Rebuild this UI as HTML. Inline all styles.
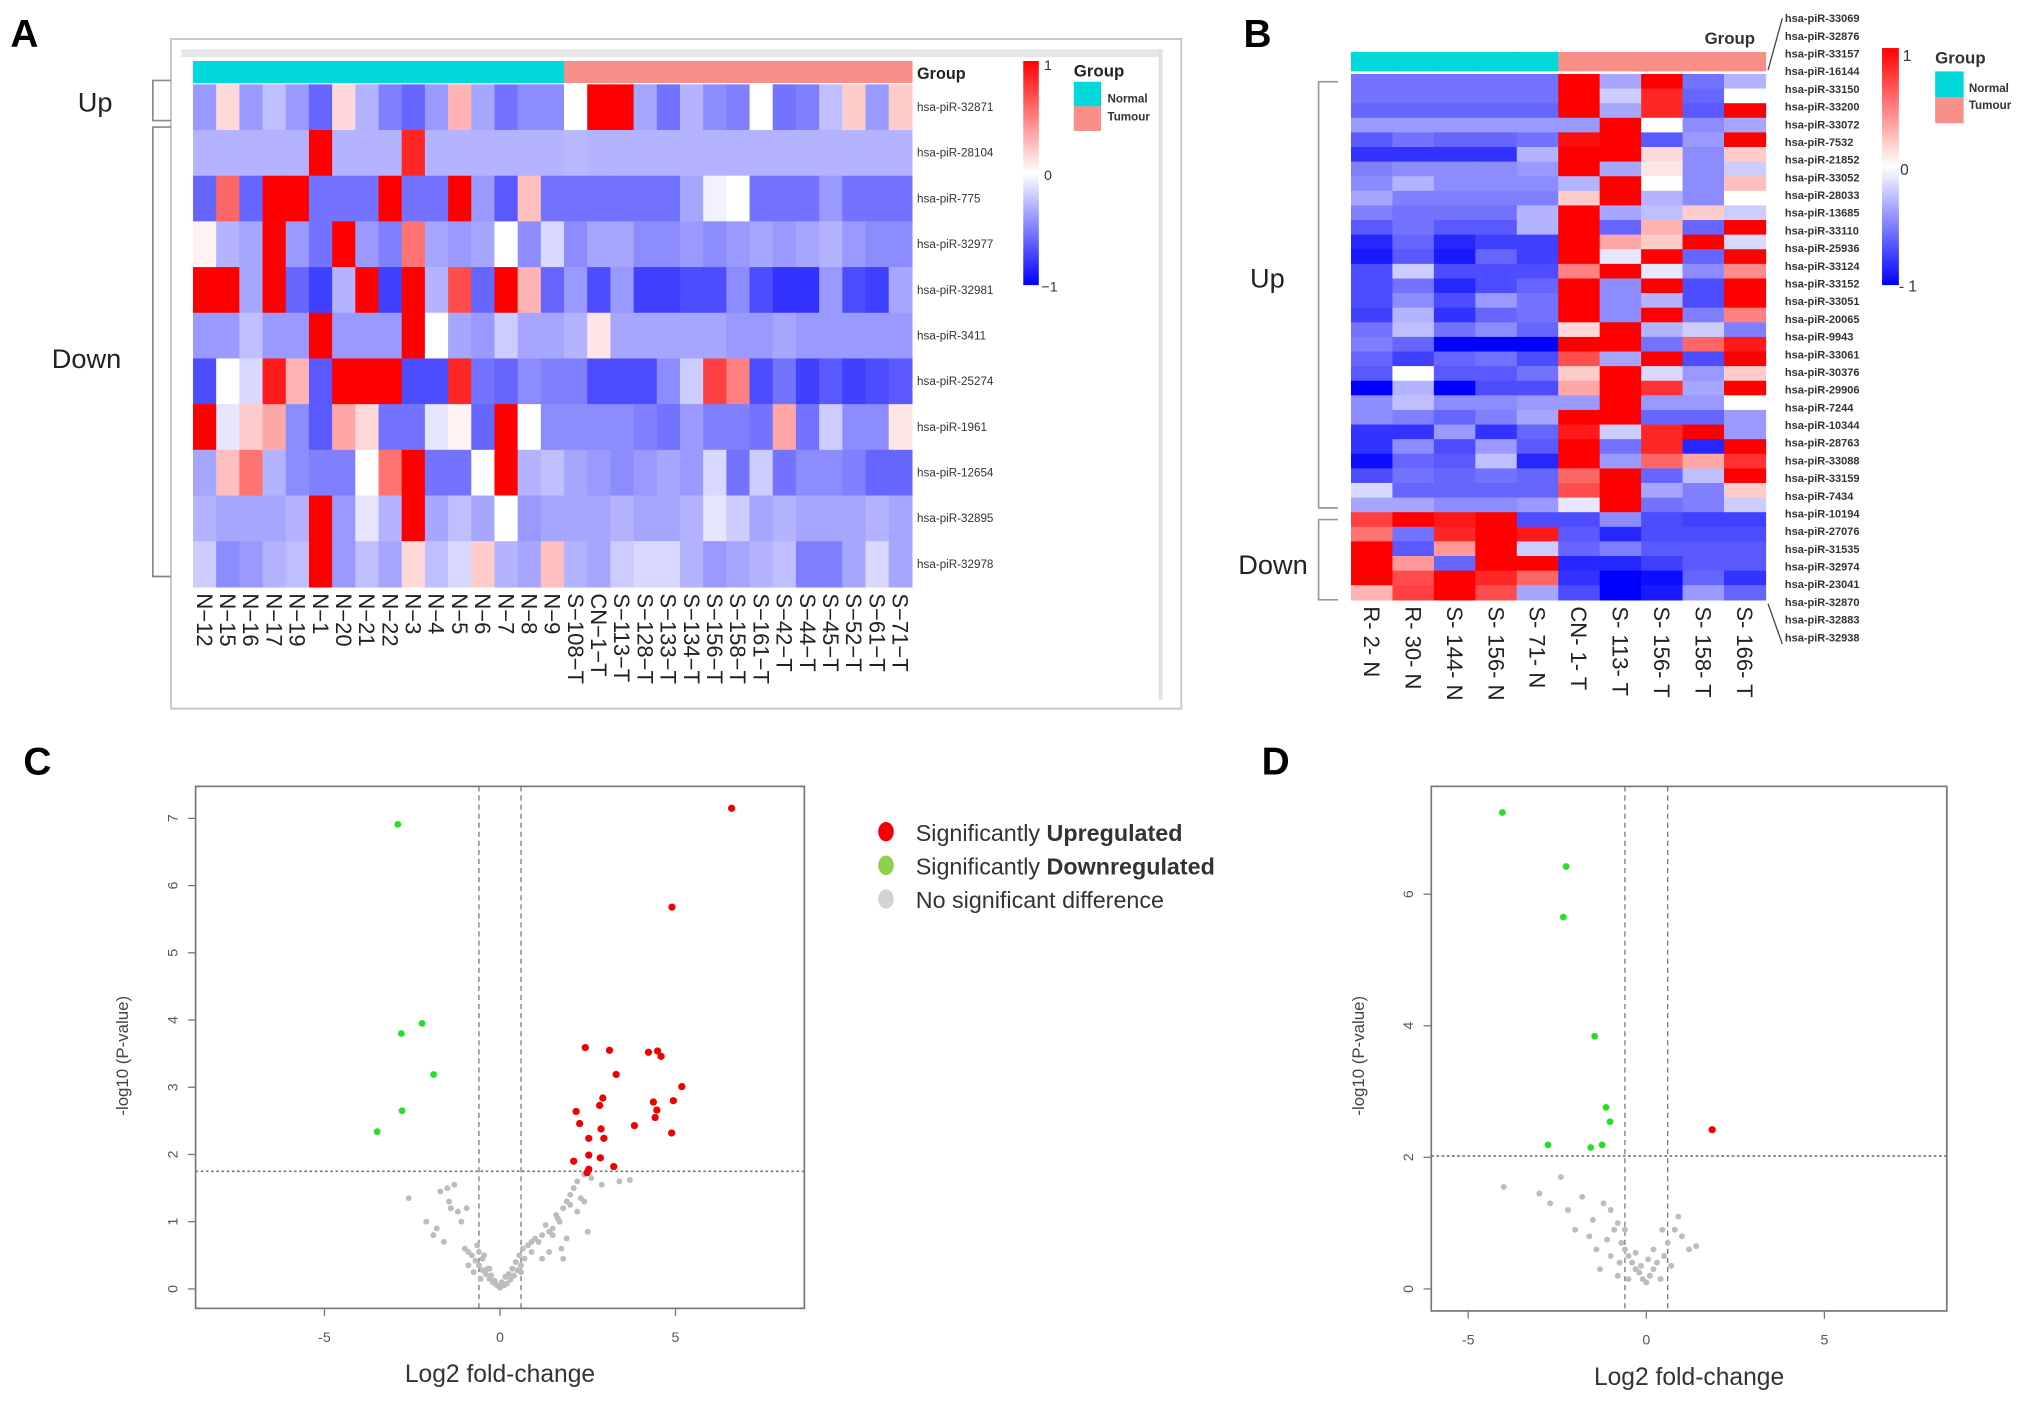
<!DOCTYPE html>
<html><head><meta charset="utf-8"><style>
html,body{margin:0;padding:0;background:#fff;}
svg{display:block;font-family:"Liberation Sans",sans-serif;}
</style></head><body>
<svg id="fig" width="2031" height="1416" viewBox="0 0 1568 1093" xmlns="http://www.w3.org/2000/svg">
<g id="root"></g>
</svg>
<script>
// ---------- Panel A data ----------
const aRows = ["hsa-piR-32871","hsa-piR-28104","hsa-piR-775","hsa-piR-32977","hsa-piR-32981","hsa-piR-3411","hsa-piR-25274","hsa-piR-1961","hsa-piR-12654","hsa-piR-32895","hsa-piR-32978"];
const aCols = ["N-12","N-15","N-16","N-17","N-19","N-1","N-20","N-21","N-22","N-3","N-4","N-5","N-6","N-7","N-8","N-9","S-108-T","CN-1-T","S-113-T","S-128-T","S-133-T","S-134-T","S-156-T","S-158-T","S-161-T","S-42-T","S-44-T","S-45-T","S-52-T","S-61-T","S-71-T"];
const aNormalCount = 16;
const aValues = [
[-0.4,0.15,-0.4,-0.25,-0.4,-0.6,0.15,-0.3,-0.5,-0.6,-0.4,0.3,-0.35,-0.55,-0.45,-0.45,0,1,1,-0.35,-0.55,-0.3,-0.45,-0.5,0,-0.55,-0.5,-0.25,0.2,-0.4,0.2],
[-0.3,-0.3,-0.3,-0.3,-0.3,1,-0.3,-0.3,-0.3,0.85,-0.3,-0.3,-0.3,-0.3,-0.3,-0.3,-0.28,-0.3,-0.3,-0.3,-0.3,-0.3,-0.3,-0.3,-0.3,-0.3,-0.3,-0.3,-0.3,-0.3,-0.3],
[-0.6,0.6,-0.6,1,1,-0.55,-0.55,-0.55,1,-0.55,-0.55,1,-0.4,-0.65,0.25,-0.55,-0.55,-0.55,-0.55,-0.55,-0.55,-0.35,-0.05,0,-0.55,-0.55,-0.55,-0.4,-0.55,-0.55,-0.55],
[0.05,-0.3,-0.35,1,-0.4,-0.55,1,-0.4,-0.5,0.55,-0.35,-0.4,-0.35,0,-0.45,-0.15,-0.45,-0.35,-0.35,-0.45,-0.45,-0.4,-0.45,-0.4,-0.35,-0.4,-0.35,-0.3,-0.4,-0.45,-0.45],
[1,1,-0.35,1,-0.6,-0.75,-0.3,1,-0.75,1,-0.3,0.7,-0.6,1,0.3,-0.6,-0.4,-0.7,-0.4,-0.75,-0.75,-0.7,-0.7,-0.45,-0.7,-0.8,-0.8,-0.4,-0.7,-0.75,-0.35],
[-0.4,-0.4,-0.25,-0.4,-0.4,1,-0.4,-0.4,-0.4,1,0,-0.35,-0.4,-0.2,-0.35,-0.35,-0.3,0.1,-0.35,-0.35,-0.35,-0.35,-0.35,-0.4,-0.4,-0.35,-0.4,-0.4,-0.4,-0.4,-0.4],
[-0.7,0,-0.15,0.9,0.3,-0.65,1,1,1,-0.7,-0.7,0.85,-0.55,-0.6,-0.45,-0.5,-0.5,-0.7,-0.7,-0.7,-0.45,-0.2,0.75,0.5,-0.7,-0.55,-0.75,-0.65,-0.75,-0.7,-0.65],
[1,-0.1,0.2,0.35,-0.45,-0.65,0.35,0.15,-0.55,-0.55,-0.1,0.05,-0.6,1,0,-0.45,-0.45,-0.45,-0.45,-0.5,-0.55,-0.4,-0.5,-0.5,-0.55,0.35,-0.55,-0.2,-0.45,-0.45,0.1],
[-0.35,0.25,0.55,-0.3,-0.45,-0.5,-0.5,0,0.55,1,-0.55,-0.55,0,1,-0.3,-0.25,-0.35,-0.4,-0.45,-0.4,-0.35,-0.4,-0.15,-0.55,-0.2,-0.55,-0.45,-0.45,-0.5,-0.6,-0.6],
[-0.3,-0.35,-0.35,-0.35,-0.3,1,-0.4,-0.1,-0.3,1,-0.35,-0.25,-0.35,0,-0.4,-0.35,-0.35,-0.35,-0.3,-0.35,-0.35,-0.3,-0.1,-0.2,-0.35,-0.3,-0.35,-0.35,-0.35,-0.3,-0.35],
[-0.2,-0.45,-0.4,-0.3,-0.25,1,-0.4,-0.25,-0.35,0.15,-0.25,-0.15,0.2,-0.3,-0.35,0.25,-0.3,-0.35,-0.2,-0.15,-0.15,-0.3,-0.4,-0.35,-0.3,-0.25,-0.5,-0.5,-0.35,-0.15,-0.35]
];
// ---------- Panel B data ----------
const bRows = ["hsa-piR-33069","hsa-piR-32876","hsa-piR-33157","hsa-piR-16144","hsa-piR-33150","hsa-piR-33200","hsa-piR-33072","hsa-piR-7532","hsa-piR-21852","hsa-piR-33052","hsa-piR-28033","hsa-piR-13685","hsa-piR-33110","hsa-piR-25936","hsa-piR-33124","hsa-piR-33152","hsa-piR-33051","hsa-piR-20065","hsa-piR-9943","hsa-piR-33061","hsa-piR-30376","hsa-piR-29906","hsa-piR-7244","hsa-piR-10344","hsa-piR-28763","hsa-piR-33088","hsa-piR-33159","hsa-piR-7434","hsa-piR-10194","hsa-piR-27076","hsa-piR-31535","hsa-piR-32974","hsa-piR-23041","hsa-piR-32870","hsa-piR-32883","hsa-piR-32938"];
const bCols = ["R- 2- N","R- 30- N","S- 144- N","S- 156- N","S- 71- N","CN- 1- T","S- 113- T","S- 156- T","S- 158- T","S- 166- T"];
const bNormalCount = 5;
const bValues = [
[-0.55,-0.55,-0.55,-0.55,-0.55,1,-0.35,1,-0.55,-0.3],
[-0.55,-0.55,-0.55,-0.55,-0.55,1,-0.2,0.85,-0.6,0],
[-0.6,-0.6,-0.6,-0.6,-0.6,1,-0.35,0.85,-0.65,1],
[-0.4,-0.4,-0.4,-0.4,-0.4,-0.4,1,0,-0.45,-0.35],
[-0.65,-0.55,-0.6,-0.6,-0.55,0.95,1,-0.65,-0.4,1],
[-0.8,-0.8,-0.8,-0.8,-0.3,1,1,0.15,-0.45,0.2],
[-0.5,-0.45,-0.45,-0.45,-0.4,1,-0.35,0.1,-0.45,-0.2],
[-0.45,-0.3,-0.45,-0.45,-0.45,-0.3,1,0,-0.45,0.25],
[-0.35,-0.5,-0.5,-0.5,-0.5,0.2,1,-0.3,-0.45,0],
[-0.5,-0.55,-0.55,-0.55,-0.3,1,-0.35,-0.25,0.2,-0.2],
[-0.65,-0.55,-0.65,-0.65,-0.3,1,-0.6,0.3,-0.6,1],
[-0.85,-0.6,-0.85,-0.75,-0.75,1,0.35,0.2,1,-0.15],
[-0.9,-0.65,-0.9,-0.6,-0.75,1,-0.1,1,-0.6,1],
[-0.7,-0.2,-0.7,-0.7,-0.7,0.5,1,-0.1,-0.45,0.45],
[-0.7,-0.55,-0.85,-0.7,-0.6,1,-0.45,1,-0.7,1],
[-0.7,-0.45,-0.7,-0.4,-0.55,1,-0.45,-0.3,-0.7,1],
[-0.75,-0.3,-0.8,-0.6,-0.55,1,-0.45,1,-0.5,0.5],
[-0.55,-0.25,-0.55,-0.45,-0.6,0.15,1,-0.3,-0.2,-0.5],
[-0.5,-0.6,-1,-1,-1,1,1,-0.55,0.6,0.9],
[-0.6,-0.75,-0.6,-0.55,-0.7,0.7,-0.35,1,-0.7,1],
[-0.65,0,-0.65,-0.65,-0.55,0.2,1,-0.15,-0.4,0.2],
[-1,-0.3,-1,-0.7,-0.7,0.35,1,0.8,-0.35,1],
[-0.45,-0.25,-0.45,-0.45,-0.4,-0.4,1,-0.4,-0.4,0],
[-0.45,-0.5,-0.6,-0.5,-0.35,1,1,-0.6,-0.6,-0.4],
[-0.8,-0.8,-0.4,-0.8,-0.6,0.9,-0.2,0.85,1,-0.4],
[-0.8,-0.45,-0.7,-0.4,-0.65,1,-0.55,0.85,-0.85,1],
[-0.95,-0.6,-0.65,-0.25,-0.85,1,-0.4,0.6,0.35,0.8],
[-0.7,-0.55,-0.6,-0.55,-0.6,0.6,1,-0.6,-0.25,1],
[-0.15,-0.6,-0.6,-0.6,-0.6,0.7,1,-0.35,-0.5,0.2],
[-0.35,-0.35,-0.45,-0.45,-0.4,-0.1,1,-0.55,-0.5,-0.2],
[0.75,1,0.9,1,-0.7,-0.7,-0.45,-0.7,-0.75,-0.75],
[0.55,-0.55,0.85,1,0.9,-0.65,-0.85,-0.7,-0.7,-0.7],
[1,-0.65,0.4,1,-0.2,-0.6,-0.5,-0.65,-0.65,-0.65],
[1,0.4,-0.6,1,1,-0.85,-0.85,-0.75,-0.65,-0.65],
[1,0.7,1,0.85,0.6,-0.8,-1,-0.95,-0.6,-0.8],
[0.3,0.75,1,0.7,-0.35,-0.7,-1,-0.9,-0.4,-0.6]
];
// ---------- Panel C data ----------
const cUpX = [6.6,4.9,2.43,3.12,4.23,4.49,4.59,3.31,5.18,2.93,4.37,4.94,2.84,2.17,4.47,4.42,2.27,2.88,3.83,4.89,2.53,2.96,2.53,2.1,2.86,3.24,2.53,2.48];
const cUpY = [7.15,5.68,3.59,3.55,3.52,3.54,3.46,3.19,3.01,2.84,2.78,2.8,2.73,2.64,2.66,2.55,2.46,2.38,2.43,2.32,2.24,2.24,1.99,1.9,1.95,1.82,1.78,1.73];
const cDownX = [-2.91,-2.22,-2.81,-1.89,-2.79,-3.5];
const cDownY = [6.91,3.95,3.8,3.19,2.65,2.34];
const cNsX = [-2.6,-2.1,-1.9,-1.5,-1.3,-1.4,-1.2,-1.8,-1.6,-1.0,-0.9,-0.8,-0.7,-0.6,-0.5,-0.4,-0.3,-0.2,-0.1,0,0.1,0.2,0.3,0.4,0.5,0.6,0.7,0.9,1.1,1.2,1.4,1.5,1.7,1.6,1.8,1.9,2.0,2.1,2.2,2.4,2.6,2.9,3.4,3.7,2.2,2.5,2.4,1.8,-1.7,-1.1,-0.9,-0.6,-0.5,-0.45,-0.35,-0.25,-0.15,0.05,0.15,0.25,0.35,0.45,0.55,0.65,0.8,1.0,1.3,1.5,1.65,1.9,2.0,2.3,1.75,1.4,1.2,-1.45,-0.95,-0.75,-0.65,-0.55,-0.3,0.0,0.6,0.9];
const cNsY = [1.35,1.0,0.8,1.5,1.55,1.2,1.15,0.9,0.7,0.6,0.55,0.5,0.42,0.35,0.28,0.22,0.15,0.1,0.06,0.02,0.05,0.08,0.14,0.2,0.28,0.35,0.45,0.55,0.7,0.8,0.85,0.9,1.0,1.1,1.2,1.3,1.4,1.5,1.6,1.7,1.65,1.55,1.6,1.62,1.15,0.85,1.3,0.45,1.45,1.0,0.35,0.55,0.45,0.5,0.3,0.2,0.12,0.1,0.18,0.22,0.3,0.4,0.5,0.6,0.65,0.75,0.95,0.8,1.05,0.75,1.25,1.35,0.6,0.55,0.45,1.3,1.2,0.25,0.65,0.15,0.3,0.04,0.25,0.7];
// ---------- Panel D data ----------
const dUpX = [1.85];
const dUpY = [2.42];
const dDownX = [-4.04,-2.25,-2.33,-1.45,-1.13,-1.02,-2.76,-1.56,-1.24];
const dDownY = [7.24,6.42,5.65,3.84,2.76,2.54,2.19,2.15,2.19];
const dNsX = [-4.0,-3.0,-2.7,-2.2,-1.8,-1.5,-1.2,-1.0,-0.9,-0.8,-0.7,-0.6,-0.5,-0.4,-0.3,-0.2,-0.1,0,0.1,0.2,0.3,0.5,0.6,0.8,0.9,1.0,1.2,-1.3,-1.0,-0.8,-0.5,0.4,-1.6,-1.4,-2.0,0.7,-0.6,-0.3,0.2,-1.1,-0.75,0.45,1.4,-2.4,-0.15,0.05];
const dNsY = [1.55,1.45,1.3,1.2,1.4,1.05,1.3,1.2,0.9,1.0,0.7,0.6,0.5,0.4,0.3,0.25,0.15,0.1,0.2,0.3,0.4,0.5,0.7,0.9,1.1,0.8,0.6,0.3,0.5,0.2,0.15,0.15,0.8,0.6,0.9,0.35,0.9,0.55,0.6,0.75,0.4,0.9,0.65,1.7,0.35,0.45];

const NS = "http://www.w3.org/2000/svg";
const root = document.getElementById('root');
function mk(tag, attrs, parent){
  const e = document.createElementNS(NS, tag);
  for (const k in attrs) e.setAttribute(k, attrs[k]);
  (parent||root).appendChild(e);
  return e;
}
function txt(s, attrs, parent){ const e = mk('text', attrs, parent); e.textContent = s; return e; }
function heat(v){
  v = Math.max(-1, Math.min(1, v));
  if (v < 0){ const t = Math.round(255*(1+v)); return `rgb(${t},${t},255)`; }
  const t = Math.round(255*(1-v)); return `rgb(255,${t},${t})`;
}
const CYAN = "#00d8dc", SALMON = "#f88f88";

// panel letters
["A","B","C","D"].forEach((L,i)=>{
  const pos = [[8,36],[960,36],[18,598],[974,598]][i];
  const t = txt(L, {x:pos[0], y:pos[1], 'font-size':30, 'font-weight':'bold', fill:'#000'});
  
  
});

// ================= Panel A =================
{
  const g = mk('g', {});
  
  
  const frame = mk('rect', {x:132, y:30, width:780, height:517, fill:'none', stroke:'#c8c8c8', 'stroke-width':1.5}, g);
  
  
  mk('rect', {x:140, y:38, width:755, height:6, fill:'#e6e6e6'}, g);
  mk('line', {x1:896, y1:38, x2:896, y2:540, stroke:'#e0e0e0', 'stroke-width':3}, g);
  const x0 = 149, x1 = 704, y0 = 65, y1 = 453;
  const cw = (x1-x0)/aCols.length, rh = (y1-y0)/aRows.length;
  // group bar
  aCols.forEach((c,j)=>{
    const r = mk('rect', {x:x0+j*cw, y:47, width:cw+0.5, height:17, fill: j<aNormalCount?CYAN:SALMON}, g);
    
    
  });
  txt('Group', {x:708, y:61, 'font-size':12.5, 'font-weight':'bold', fill:'#222'}, g);
  aValues.forEach((row,i)=>{
    row.forEach((v,j)=>{
      const r = mk('rect', {x:x0+j*cw, y:y0+i*rh, width:cw+0.5, height:rh+0.5, fill:heat(v)}, g);
      
      
    });
    const t = txt(aRows[i], {x:708, y:y0+(i+0.5)*rh+3, 'font-size':9, fill:'#333'}, g);
    
    
  });
  aCols.forEach((c,j)=>{
    const cx = x0+(j+0.5)*cw - 6;
    const t = txt(c.replace(/-/g,'\u2212'), {x:0, y:0, 'font-size':17, fill:'#222', transform:`translate(${cx},458) rotate(90)`}, g);
    
    
  });
  // brackets
  mk('path', {d:'M132,62 H118 V93 H132', fill:'none', stroke:'#888', 'stroke-width':1.3}, g);
  mk('path', {d:'M132,98 H118 V445 H132', fill:'none', stroke:'#888', 'stroke-width':1.3}, g);
  txt('Up', {x:60, y:86, 'font-size':21, fill:'#222'}, g);
  txt('Down', {x:40, y:284, 'font-size':21, fill:'#222'}, g);
  // colorbar
  const defs = mk('defs', {}, g);
  const lg = mk('linearGradient', {id:'cbarA', x1:0, y1:0, x2:0, y2:1}, defs);
  mk('stop', {offset:'0', 'stop-color':'#ff0000'}, lg);
  mk('stop', {offset:'0.5', 'stop-color':'#ffffff'}, lg);
  mk('stop', {offset:'1', 'stop-color':'#0000ff'}, lg);
  const cb = mk('rect', {x:790, y:47, width:12, height:173, fill:'url(#cbarA)'}, g);
  
  
  txt('1', {x:806, y:54, 'font-size':11, fill:'#333'}, g);
  txt('0', {x:806, y:139, 'font-size':11, fill:'#333'}, g);
  txt('\u22121', {x:804, y:225, 'font-size':11, fill:'#333'}, g);
  txt('Group', {x:829, y:59, 'font-size':13, 'font-weight':'bold', fill:'#222'}, g);
  mk('rect', {x:829, y:63, width:21, height:19, fill:CYAN}, g);
  mk('rect', {x:829, y:82, width:21, height:19, fill:SALMON}, g);
  txt('Normal', {x:855, y:79, 'font-size':9, 'font-weight':'bold', fill:'#333'}, g);
  txt('Tumour', {x:855, y:93, 'font-size':9, 'font-weight':'bold', fill:'#333'}, g);
}

// ================= Panel B =================
{
  const g = mk('g', {});
  
  
  const x0 = 1043, x1 = 1363, y0 = 57, y1 = 463;
  const cw = (x1-x0)/bCols.length, rh = (y1-y0)/bRows.length;
  bCols.forEach((c,j)=>{
    const r = mk('rect', {x:x0+j*cw, y:40, width:cw+0.5, height:15, fill: j<bNormalCount?CYAN:SALMON}, g);
    
    
  });
  txt('Group', {x:1316, y:34, 'font-size':13, 'font-weight':'bold', fill:'#333'}, g);
  bValues.forEach((row,i)=>{
    row.forEach((v,j)=>{
      const r = mk('rect', {x:x0+j*cw, y:y0+i*rh, width:cw+0.5, height:rh+0.5, fill:heat(v)}, g);
      
      
    });
  });
  const ly0 = 14, ly1 = 492, ls = (ly1-ly0)/(bRows.length-1);
  bRows.forEach((r,i)=>{
    const t = txt(r, {x:1378, y:ly0+i*ls+3, 'font-size':8.5, 'font-weight':'bold', fill:'#333'}, g);
    
    
  });
  mk('line', {x1:1365, y1:54, x2:1376, y2:14, stroke:'#444', 'stroke-width':1}, g);
  mk('line', {x1:1365, y1:466, x2:1376, y2:497, stroke:'#444', 'stroke-width':1}, g);
  bCols.forEach((c,j)=>{
    const cx = x0+(j+0.5)*cw - 6;
    const t = txt(c, {x:0, y:0, 'font-size':17, fill:'#222', transform:`translate(${cx},468) rotate(90)`}, g);
    
    
  });
  mk('path', {d:'M1033,63 H1018 V392 H1033', fill:'none', stroke:'#999', 'stroke-width':1.3}, g);
  mk('path', {d:'M1033,401 H1018 V463 H1033', fill:'none', stroke:'#999', 'stroke-width':1.3}, g);
  txt('Up', {x:965, y:222, 'font-size':21, fill:'#222'}, g);
  txt('Down', {x:956, y:443, 'font-size':21, fill:'#222'}, g);
  const defs = mk('defs', {}, g);
  const lg = mk('linearGradient', {id:'cbarB', x1:0, y1:0, x2:0, y2:1}, defs);
  mk('stop', {offset:'0', 'stop-color':'#ff0000'}, lg);
  mk('stop', {offset:'0.5', 'stop-color':'#ffffff'}, lg);
  mk('stop', {offset:'1', 'stop-color':'#0000ff'}, lg);
  const cb = mk('rect', {x:1453, y:37, width:13, height:183, fill:'url(#cbarB)'}, g);
  
  
  txt('1', {x:1469, y:47, 'font-size':12, fill:'#333'}, g);
  txt('0', {x:1467, y:135, 'font-size':12, fill:'#333'}, g);
  txt('- 1', {x:1466, y:225, 'font-size':12, fill:'#333'}, g);
  txt('Group', {x:1494, y:49, 'font-size':13, 'font-weight':'bold', fill:'#333'}, g);
  mk('rect', {x:1494, y:55, width:22, height:20, fill:CYAN}, g);
  mk('rect', {x:1494, y:75, width:22, height:20, fill:SALMON}, g);
  txt('Normal', {x:1520, y:71, 'font-size':9, 'font-weight':'bold', fill:'#333'}, g);
  txt('Tumour', {x:1520, y:84, 'font-size':9, 'font-weight':'bold', fill:'#333'}, g);
}

// ================= Volcano helper =================
function volcano(opt){
  const g = mk('g', {});
  
  
  const sx = v => opt.x0px + (v - 0) * opt.xs;
  const sy = v => opt.y0px - v * opt.ys;
  const box = mk('rect', {x:opt.bx, y:opt.by, width:opt.bw, height:opt.bh, fill:'none', stroke:'#777', 'stroke-width':1.3}, g);
  
  
  // x ticks
  [-5,0,5].forEach(t=>{
    mk('line', {x1:sx(t), y1:opt.by+opt.bh, x2:sx(t), y2:opt.by+opt.bh+6, stroke:'#777'}, g);
    const l = txt(String(t), {x:sx(t), y:opt.by+opt.bh+26, 'font-size':11, 'text-anchor':'middle', fill:'#555'}, g);
    
    
  });
  opt.yticks.forEach(t=>{
    mk('line', {x1:opt.bx, y1:sy(t), x2:opt.bx-6, y2:sy(t), stroke:'#777'}, g);
    const l = txt(String(t), {x:0, y:0, 'font-size':11, 'text-anchor':'middle', fill:'#555', transform:`translate(${opt.bx-14},${sy(t)}) rotate(-90)`}, g);
    
    
  });
  // threshold lines
  mk('line', {x1:opt.bx, y1:sy(opt.hline), x2:opt.bx+opt.bw, y2:sy(opt.hline), stroke:'#777', 'stroke-dasharray':'2,2', 'stroke-width':1.3}, g);
  [-opt.vline, opt.vline].forEach(v=>{
    mk('line', {x1:sx(v), y1:opt.by, x2:sx(v), y2:opt.by+opt.bh, stroke:'#777', 'stroke-dasharray':'4,3', 'stroke-width':1}, g);
  });
  opt.nsX.forEach((x,i)=>{
    const c = mk('circle', {cx:sx(x), cy:sy(opt.nsY[i]), r:2.3, fill:'#bdbdbd'}, g);
    
    
  });
  opt.downX.forEach((x,i)=>{
    const c = mk('circle', {cx:sx(x), cy:sy(opt.downY[i]), r:2.6, fill:'#22e022'}, g);
    
    
  });
  opt.upX.forEach((x,i)=>{
    const c = mk('circle', {cx:sx(x), cy:sy(opt.upY[i]), r:2.8, fill:'#f00000'}, g);
    
    
  });
  const xl = txt('Log2 fold-change', {x:opt.bx+opt.bw/2, y:opt.by+opt.bh+57, 'font-size':19, 'text-anchor':'middle', fill:'#333'}, g);
  
  
  const yl = txt('-log10 (P-value)', {x:0, y:0, 'font-size':13, 'text-anchor':'middle', fill:'#444', transform:`translate(${opt.bx-52},${opt.by+208}) rotate(-90)`}, g);
  
  
  return g;
}
volcano({name:'volcano-c', bx:151, by:607, bw:470, bh:403, x0px:386, xs:27.1, y0px:995, ys:51.9,
  yticks:[0,1,2,3,4,5,6,7], hline:1.75, vline:0.6,
  upX:cUpX, upY:cUpY, downX:cDownX, downY:cDownY, nsX:cNsX, nsY:cNsY});
volcano({name:'volcano-d', bx:1105, by:607, bw:398, bh:405, x0px:1271, xs:27.5, y0px:995, ys:50.8,
  yticks:[0,2,4,6], hline:2.02, vline:0.6,
  upX:dUpX, upY:dUpY, downX:dDownX, downY:dDownY, nsX:dNsX, nsY:dNsY});

// legend C
{
  const g = mk('g', {});
  
  
  const items = [["#f40000","Significantly ","Upregulated"],["#8ed04a","Significantly ","Downregulated"],["#d4d4d4","No significant difference",""]];
  items.forEach((it,i)=>{
    const y = 642 + i*26;
    mk('ellipse', {cx:684, cy:y, rx:6, ry:7.5, fill:it[0]}, g);
    const t = txt(it[1], {x:707, y:y+7, 'font-size':18, fill:'#333'}, g);
    
    
    if (it[2]){ const b = mk('tspan', {'font-weight':'bold', 'font-size':18}, t); b.textContent = it[2]; }
  });
}
</script>
</body></html>
